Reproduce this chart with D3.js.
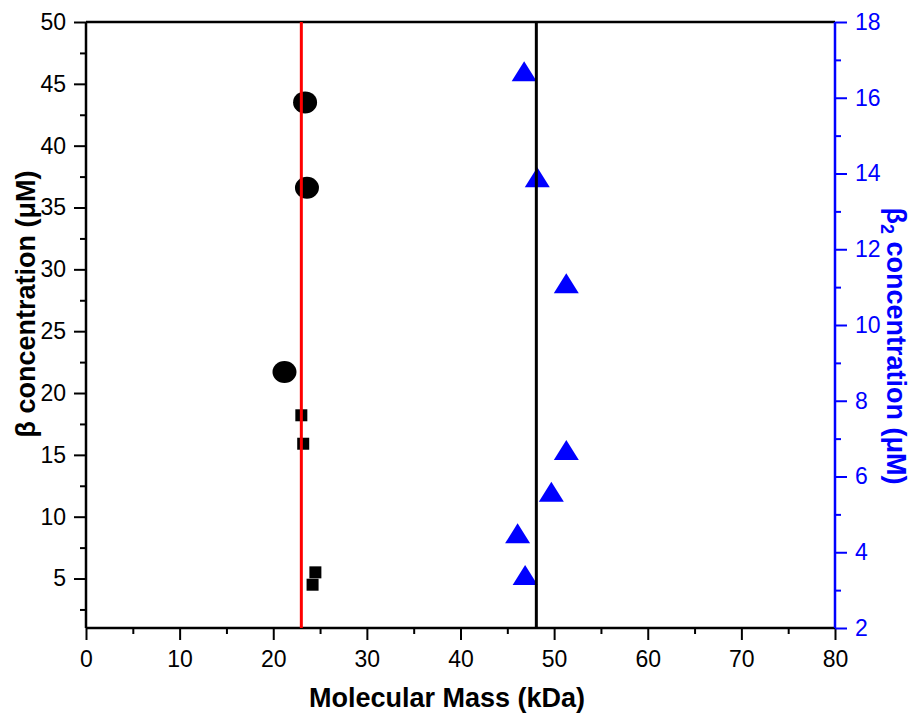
<!DOCTYPE html>
<html>
<head>
<meta charset="utf-8">
<script src="https://cdn.jsdelivr.net/npm/d3@7"></script>
<style>
  body { margin: 0; background: #fff; }
  text { font-family: "Liberation Sans", Arial, sans-serif; }
</style>
</head>
<body>
<script>
var width = 912,
    height = 713;

// series
var circleMass = [23.4, 23.6, 21.2],
    circleConc = [43.5, 36.6, 21.7];

var squareMass = [23.0, 23.2, 24.5, 24.2],
    squareConc = [18.2, 15.9, 5.5, 4.5];

var triMass = [46.8, 48.2, 51.3, 51.3, 49.7, 46.1, 46.9],
    triConc = [16.7, 13.9, 11.1, 6.7, 5.6, 4.5, 3.4];

var refLines = [23, 48.1],
    refColors = ["#ff0000", "#000000"];

var xTicks = [0, 10, 20, 30, 40, 50, 60, 70, 80],
    leftTicks = [5, 10, 15, 20, 25, 30, 35, 40, 45, 50],
    rightTicks = [2, 4, 6, 8, 10, 12, 14, 16, 18];

var x = d3.scaleLinear().domain([0, 80]).range([86, 835]),
    yL = d3.scaleLinear().domain([1, 50]).range([628, 22]),
    yR = d3.scaleLinear().domain([2, 18]).range([628, 22]);

var svg = d3.select("body").append("svg")
    .attr("width", width)
    .attr("height", height);

var blue = "#0000ff";

// minor ticks
var xMinor = d3.range(5, 80, 10),
    leftMinor = d3.range(2.5, 50, 5),
    rightMinor = d3.range(3, 18, 2);

function styleAxis(g, color, size) {
    g.select(".domain").remove();
    g.selectAll("line").attr("stroke", color).attr("stroke-width", 2);
    g.selectAll("text")
        .attr("fill", color)
        .style("font-size", size + "px");
}

// bottom axis
svg.append("g")
    .attr("transform", "translate(0,628)")
    .call(d3.axisBottom(x).tickValues(xMinor).tickSize(6).tickFormat(""))
    .call(styleAxis, "#000", 23);
svg.append("g")
    .attr("transform", "translate(0,628)")
    .call(d3.axisBottom(x).tickValues(xTicks).tickSize(12).tickPadding(11).tickFormat(d3.format("d")))
    .call(styleAxis, "#000", 23);

// left axis
svg.append("g")
    .attr("transform", "translate(86,0)")
    .call(d3.axisLeft(yL).tickValues(leftMinor).tickSize(6).tickFormat(""))
    .call(styleAxis, "#000", 23);
svg.append("g")
    .attr("transform", "translate(86,0)")
    .call(d3.axisLeft(yL).tickValues(leftTicks).tickSize(12).tickPadding(8).tickFormat(d3.format("d")))
    .call(styleAxis, "#000", 23);

// right axis
svg.append("g")
    .attr("transform", "translate(835,0)")
    .call(d3.axisRight(yR).tickValues(rightMinor).tickSize(6).tickFormat(""))
    .call(styleAxis, blue, 23);
svg.append("g")
    .attr("transform", "translate(835,0)")
    .call(d3.axisRight(yR).tickValues(rightTicks).tickSize(12).tickPadding(8).tickFormat(d3.format("d")))
    .call(styleAxis, blue, 23);

// frame
svg.append("line").attr("x1", 86).attr("x2", 835).attr("y1", 22).attr("y2", 22)
    .attr("stroke", "#000").attr("stroke-width", 2.5);
svg.append("line").attr("x1", 86).attr("x2", 835).attr("y1", 628).attr("y2", 628)
    .attr("stroke", "#000").attr("stroke-width", 2.5);
svg.append("line").attr("x1", 86).attr("x2", 86).attr("y1", 22).attr("y2", 628)
    .attr("stroke", "#000").attr("stroke-width", 2.5);
svg.append("line").attr("x1", 835).attr("x2", 835).attr("y1", 22).attr("y2", 628)
    .attr("stroke", blue).attr("stroke-width", 2.5);

// markers
svg.append("g").selectAll("ellipse")
    .data(d3.range(circleMass.length))
    .enter().append("ellipse")
    .attr("cx", function(i) { return x(circleMass[i]); })
    .attr("cy", function(i) { return yL(circleConc[i]); })
    .attr("rx", 12)
    .attr("ry", 11)
    .attr("fill", "#000");

svg.append("g").selectAll("rect")
    .data(d3.range(squareMass.length))
    .enter().append("rect")
    .attr("x", function(i) { return x(squareMass[i]) - 6; })
    .attr("y", function(i) { return yL(squareConc[i]) - 6; })
    .attr("width", 12)
    .attr("height", 12)
    .attr("fill", "#000");

svg.append("g").selectAll("path")
    .data(d3.range(triMass.length))
    .enter().append("path")
    .attr("d", function(i) {
        var cx = x(triMass[i]), cy = yR(triConc[i]);
        return "M" + (cx - 12.5) + "," + (cy + 10) +
               "L" + (cx + 12.5) + "," + (cy + 10) +
               "L" + cx + "," + (cy - 10) + "Z";
    })
    .attr("fill", blue);

// vertical reference lines drawn over the markers
svg.append("g").selectAll("line")
    .data(refLines)
    .enter().append("line")
    .attr("x1", function(d) { return x(d); })
    .attr("x2", function(d) { return x(d); })
    .attr("y1", 22)
    .attr("y2", 628)
    .attr("stroke", function(d, i) { return refColors[i]; })
    .attr("stroke-width", 3);

// titles
svg.append("text")
    .attr("x", 447)
    .attr("y", 707)
    .attr("text-anchor", "middle")
    .style("font-size", "27px")
    .style("font-weight", "bold")
    .text("Molecular Mass (kDa)");

svg.append("text")
    .attr("transform", "translate(35,304) rotate(-90)")
    .attr("text-anchor", "middle")
    .style("font-size", "27px")
    .style("font-weight", "bold")
    .text("β concentration (μM)");

var rt = svg.append("text")
    .attr("transform", "translate(887,346) rotate(90)")
    .attr("text-anchor", "middle")
    .attr("fill", blue)
    .style("font-size", "27px")
    .style("font-weight", "bold");
rt.append("tspan").text("β");
rt.append("tspan").attr("dy", 6).style("font-size", "18px").text("2");
rt.append("tspan").attr("dy", -6).text(" concentration (μM)");
</script>
</body>
</html>
